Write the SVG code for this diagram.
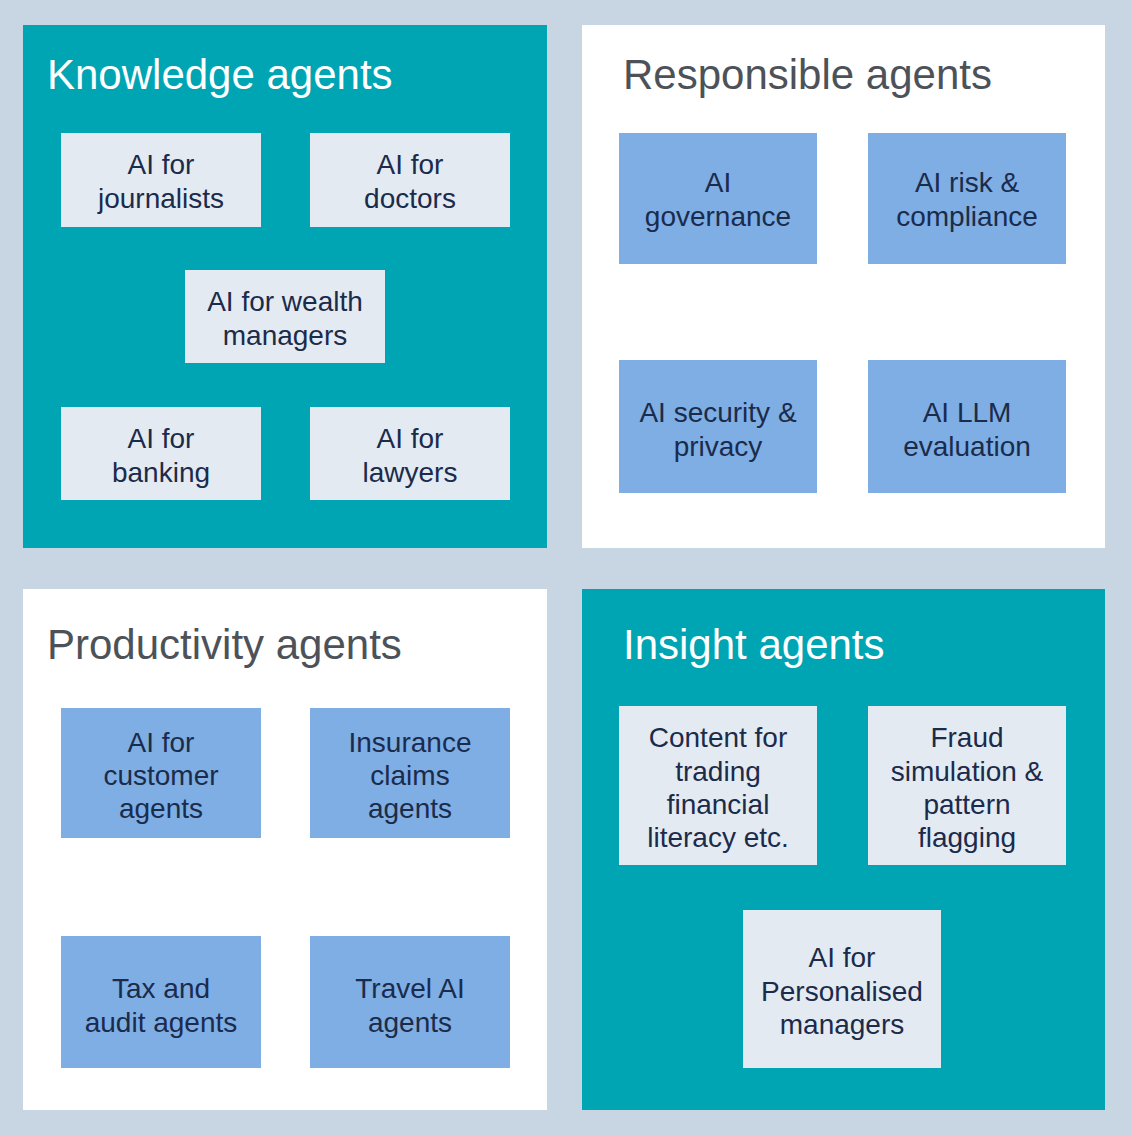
<svg xmlns="http://www.w3.org/2000/svg" width="1131" height="1136" viewBox="0 0 1131 1136">
<style>
.bg{fill:#c8d5e2}
.teal{fill:#00a5b4}
.white{fill:#ffffff}
.pale{fill:#e4eaf1}
.blue{fill:#7eaee3}
.title{font-family:"Liberation Sans",Arial,sans-serif;font-size:42px}
.tw{fill:#ffffff}
.tg{fill:#4d5259}
.lbl{font-family:"Liberation Sans",Arial,sans-serif;font-size:28px;fill:#1b2b4b;text-anchor:middle}
</style>
<rect class="bg" x="0" y="0" width="1131" height="1136"/>

<g id="panel-knowledge">
<rect class="teal" x="23" y="25" width="524" height="523"/>
<text class="title tw" x="47" y="89">Knowledge agents</text>
</g>
<g id="panel-responsible">
<rect class="white" x="582" y="25" width="523" height="523"/>
<text class="title tg" x="623" y="89">Responsible agents</text>
</g>
<g id="panel-productivity">
<rect class="white" x="23" y="589" width="524" height="521"/>
<text class="title tg" x="47" y="659">Productivity agents</text>
</g>
<g id="panel-insight">
<rect class="teal" x="582" y="589" width="523" height="521"/>
<text class="title tw" x="623" y="659">Insight agents</text>
</g>

<g id="connectors"></g>

<g id="n-journalists"><rect class="pale" x="61" y="133" width="200" height="94"/>
<text class="lbl" x="161" y="174">AI for</text><text class="lbl" x="161" y="208">journalists</text></g>
<g id="n-doctors"><rect class="pale" x="310" y="133" width="200" height="94"/>
<text class="lbl" x="410" y="174">AI for</text><text class="lbl" x="410" y="208">doctors</text></g>
<g id="n-wealth"><rect class="pale" x="185" y="270" width="200" height="93"/>
<text class="lbl" x="285" y="311">AI for wealth</text><text class="lbl" x="285" y="345">managers</text></g>
<g id="n-banking"><rect class="pale" x="61" y="407" width="200" height="93"/>
<text class="lbl" x="161" y="448">AI for</text><text class="lbl" x="161" y="482">banking</text></g>
<g id="n-lawyers"><rect class="pale" x="310" y="407" width="200" height="93"/>
<text class="lbl" x="410" y="448">AI for</text><text class="lbl" x="410" y="482">lawyers</text></g>

<g id="n-governance"><rect class="blue" x="619" y="133" width="198" height="131"/>
<text class="lbl" x="718" y="192">AI</text><text class="lbl" x="718" y="226">governance</text></g>
<g id="n-risk"><rect class="blue" x="868" y="133" width="198" height="131"/>
<text class="lbl" x="967" y="192">AI risk &amp;</text><text class="lbl" x="967" y="226">compliance</text></g>
<g id="n-security"><rect class="blue" x="619" y="360" width="198" height="133"/>
<text class="lbl" x="718" y="422">AI security &amp;</text><text class="lbl" x="718" y="456">privacy</text></g>
<g id="n-llm"><rect class="blue" x="868" y="360" width="198" height="133"/>
<text class="lbl" x="967" y="422">AI LLM</text><text class="lbl" x="967" y="456">evaluation</text></g>

<g id="n-customer"><rect class="blue" x="61" y="708" width="200" height="130"/>
<text class="lbl" x="161" y="752">AI for</text><text class="lbl" x="161" y="785">customer</text><text class="lbl" x="161" y="818">agents</text></g>
<g id="n-insurance"><rect class="blue" x="310" y="708" width="200" height="130"/>
<text class="lbl" x="410" y="752">Insurance</text><text class="lbl" x="410" y="785">claims</text><text class="lbl" x="410" y="818">agents</text></g>
<g id="n-tax"><rect class="blue" x="61" y="936" width="200" height="132"/>
<text class="lbl" x="161" y="998">Tax and</text><text class="lbl" x="161" y="1032">audit agents</text></g>
<g id="n-travel"><rect class="blue" x="310" y="936" width="200" height="132"/>
<text class="lbl" x="410" y="998">Travel AI</text><text class="lbl" x="410" y="1032">agents</text></g>

<g id="n-content"><rect class="pale" x="619" y="706" width="198" height="159"/>
<text class="lbl" x="718" y="747">Content for</text><text class="lbl" x="718" y="781">trading</text><text class="lbl" x="718" y="814">financial</text><text class="lbl" x="718" y="847">literacy etc.</text></g>
<g id="n-fraud"><rect class="pale" x="868" y="706" width="198" height="159"/>
<text class="lbl" x="967" y="747">Fraud</text><text class="lbl" x="967" y="781">simulation &amp;</text><text class="lbl" x="967" y="814">pattern</text><text class="lbl" x="967" y="847">flagging</text></g>
<g id="n-personalised"><rect class="pale" x="743" y="910" width="198" height="158"/>
<text class="lbl" x="842" y="967">AI for</text><text class="lbl" x="842" y="1001">Personalised</text><text class="lbl" x="842" y="1034">managers</text></g>
</svg>
